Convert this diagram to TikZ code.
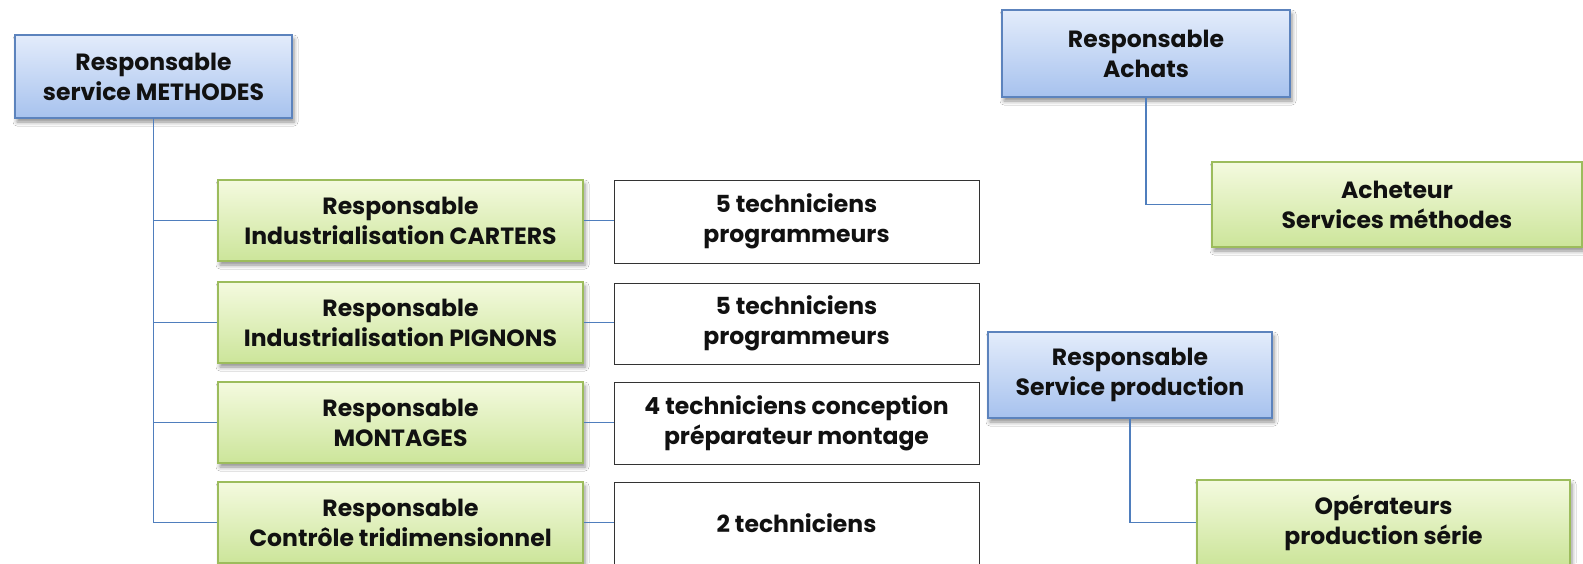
\documentclass[tikz,border=0pt]{standalone}
\usepackage{fontspec}
\setmainfont{Poppins}
\usetikzlibrary{shadows.blur}
\definecolor{bluetop}{HTML}{E3ECFB}
\definecolor{bluebot}{HTML}{A7C2EE}
\definecolor{blueedge}{HTML}{5C83BD}
\definecolor{greentop}{HTML}{F4FADF}
\definecolor{greenbot}{HTML}{CCE59A}
\definecolor{greenedge}{HTML}{9CBC5C}
\definecolor{linkcol}{HTML}{4F7EBD}
\definecolor{txt}{HTML}{111111}
\tikzset{
  boxbase/.style={rectangle, align=center, text=txt, inner sep=0pt,
    font=\fontsize{23.5}{30}\selectfont\bfseries, line width=1.3pt},
  bluebox/.style={boxbase, draw=blueedge, top color=bluetop, bottom color=bluebot,
    blur shadow={shadow xshift=2pt, shadow yshift=-4pt, shadow blur radius=4pt, shadow opacity=45}},
  greenbox/.style={boxbase, draw=greenedge, top color=greentop, bottom color=greenbot,
    blur shadow={shadow xshift=2pt, shadow yshift=-4pt, shadow blur radius=4pt, shadow opacity=45}},
  whitebox/.style={boxbase, draw=black!80, fill=white, line width=1pt},
  link/.style={draw=linkcol, line width=1.8pt}
}
\begin{document}
\begin{tikzpicture}[x=1pt,y=-1pt]
\useasboundingbox[fill=white] (0,0) rectangle (1583,563);
% left tree
\node[bluebox, minimum width=277pt, minimum height=83pt] (meth) at (153.5,76.5) {Responsable\\service METHODES};
\node[greenbox, minimum width=365pt, minimum height=81pt] (g1) at (400.5,220.5) {Responsable\\Industrialisation CARTERS};
\node[greenbox, minimum width=365pt, minimum height=81pt] (g2) at (400.5,322.5) {Responsable\\Industrialisation PIGNONS};
\node[greenbox, minimum width=365pt, minimum height=81pt] (g3) at (400.5,422.5) {Responsable\\MONTAGES};
\node[greenbox, minimum width=365pt, minimum height=81pt] (g4) at (400.5,522.5) {Responsable\\Contrôle tridimensionnel};
\node[whitebox, minimum width=365pt, minimum height=83pt] (w1) at (796.5,221.5) {5 techniciens\\programmeurs};
\node[whitebox, minimum width=365pt, minimum height=81pt] (w2) at (796.5,323.5) {5 techniciens\\programmeurs};
\node[whitebox, minimum width=365pt, minimum height=82pt] (w3) at (796.5,423) {4 techniciens conception\\préparateur montage};
\node[whitebox, minimum width=365pt, minimum height=82pt] (w4) at (796.5,523) {2 techniciens};
% right trees
\node[bluebox, minimum width=288pt, minimum height=87pt] (achats) at (1146,53.5) {Responsable\\Achats};
\node[greenbox, minimum width=370pt, minimum height=85pt] (acheteur) at (1397,204.5) {Acheteur\\Services méthodes};
\node[bluebox, minimum width=284pt, minimum height=86pt] (prod) at (1130,375) {Responsable\\Service production};
\node[greenbox, minimum width=373pt, minimum height=85pt] (oper) at (1383.5,522.5) {Opérateurs\\production série};
% connectors
\foreach \g in {g1,g2,g3,g4}{\draw[link] (meth.south) |- (\g.west);}
\foreach \g/\w in {g1/w1,g2/w2,g3/w3,g4/w4}{\draw[link] (\g.east) -- (\g.east -| \w.west);}
\draw[link] (achats.south) |- (acheteur.west);
\draw[link] (prod.south) |- (oper.west);
\end{tikzpicture}
\end{document}
